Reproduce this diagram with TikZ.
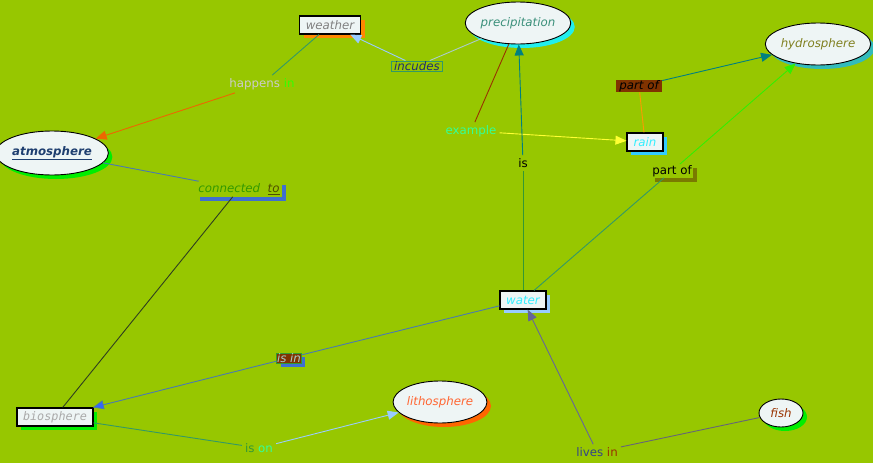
\documentclass[tikz,border=0pt]{standalone}
\usepackage{fontspec}
\setmainfont{DejaVu Sans}
\newfontfamily\monofont{DejaVu Sans Mono}
\usetikzlibrary{arrows.meta,shadows,shapes.geometric}

\definecolor{mapbg}{HTML}{97C700}
\definecolor{nodefill}{HTML}{EEF5F5}
\definecolor{shorange}{HTML}{FF8800}
\definecolor{shcyan}{HTML}{22EEEE}
\definecolor{shteal}{HTML}{33BBBB}
\definecolor{shgreen}{HTML}{00EE00}
\definecolor{shsky}{HTML}{33CCFF}
\definecolor{shpale}{HTML}{99CCFF}
\definecolor{shblue}{HTML}{3F6FD0}
\definecolor{sholive}{HTML}{7A7A00}
\definecolor{shred}{HTML}{FF6600}
\definecolor{linkbrown}{HTML}{803300}
\definecolor{txteal}{HTML}{3A8F7A}
\definecolor{txolive}{HTML}{808020}
\definecolor{txnavy}{HTML}{1F3F70}
\definecolor{txcyan}{HTML}{33EEFF}
\definecolor{txgray}{HTML}{AAAAAA}
\definecolor{txorange}{HTML}{FF6633}
\definecolor{txbrown}{HTML}{993300}
\definecolor{txsilver}{HTML}{CCCCCC}
\definecolor{txlime}{HTML}{33FF00}
\definecolor{txmint}{HTML}{33FF99}
\definecolor{txdarkblue}{HTML}{1F2F70}
\definecolor{txgreen}{HTML}{339900}
\definecolor{txkhaki}{HTML}{4D4D00}
\definecolor{txpale}{HTML}{AACCCC}
\definecolor{txleaf}{HTML}{339933}
\definecolor{txslate}{HTML}{334488}
\definecolor{lnseagreen}{HTML}{339966}
\definecolor{lnorange}{HTML}{EE6600}
\definecolor{lnpale}{HTML}{AACCCC}
\definecolor{lnsky}{HTML}{99CCFF}
\definecolor{lnyellow}{HTML}{FFFF33}
\definecolor{lnteal}{HTML}{008080}
\definecolor{lnamber}{HTML}{FF9900}
\definecolor{lnlime}{HTML}{33EE00}
\definecolor{lnsteel}{HTML}{4A7AB0}
\definecolor{lndark}{HTML}{2F3F1F}
\definecolor{lnblue}{HTML}{3366FF}
\definecolor{lngray}{HTML}{666677}
\definecolor{lnpurple}{HTML}{666699}

\begin{document}
\begin{tikzpicture}[x=1pt,y=-1pt,
    concept/.style={ellipse, draw=black, line width=0.9pt, fill=nodefill,
        inner sep=0pt, font=\fontsize{11.8}{14}\selectfont\itshape},
    cbox/.style={rectangle, draw=black, line width=1.1pt, fill=nodefill,
        inner sep=0pt, minimum height=18pt, font=\fontsize{11.8}{14}\selectfont\itshape},
    phrase/.style={inner sep=3pt, font=\fontsize{11.8}{14}\selectfont},
    shadowed/.style={drop shadow={shadow xshift=4pt, shadow yshift=-4pt, fill=#1, opacity=1}},
    link/.style={line width=0.9pt},
    arr/.style={link, -{Triangle[length=11pt,width=9pt]}}
]

\fill[mapbg] (0,0) rectangle (873,463);
\useasboundingbox (0,0) rectangle (873,463);

% concepts
\node[cbox, shadowed=shorange, minimum width=61pt, text=gray] (weather) at (330,25) {weather};
\node[concept, shadowed=shcyan, minimum width=97pt, minimum height=42pt, text=txteal]
    (precip) at (518,23) {precipitation};
\node[concept, shadowed=shteal, minimum width=98pt, minimum height=42pt, text=txolive]
    (hydro) at (818,44) {hydrosphere};
\node[concept, shadowed=shgreen, minimum width=103pt, minimum height=44pt, text=txnavy]
    (atmos) at (52,153) {\underline{\bfseries atmosphere}};
\node[cbox, shadowed=shsky, minimum width=36pt, text=txcyan] (rain) at (645,142) {rain};
\node[cbox, shadowed=shpale, minimum width=46pt, text=txcyan] (water) at (523,300) {water};
\node[cbox, shadowed=shgreen, minimum width=76pt, text=txgray,
    font=\fontsize{11.8}{14}\selectfont\monofont\itshape] (bio) at (55,417) {biosphere};
\node[concept, shadowed=shred, minimum width=89pt, minimum height=42pt, text=txorange]
    (litho) at (440,402) {lithosphere};
\node[concept, shadowed=shgreen, minimum width=44pt, minimum height=28pt, text=txbrown]
    (fish) at (781,413) {fish};

% linking phrases
\node[phrase] (happens) at (262,84) {\color{txsilver}happens \color{txlime}in};
\node[phrase, draw=lnseagreen, line width=0.8pt, inner sep=0.5pt, minimum width=51pt,
    text=txdarkblue, font=\fontsize{11.8}{14}\selectfont\itshape] (incudes) at (417,66) {incudes};
\node[phrase, text=txmint] (example) at (471,131) {example};
\node[phrase, text=black] (islbl) at (523,163) {is};
\node[phrase, fill=linkbrown, inner sep=0.5pt, minimum width=46pt, text=black,
    font=\fontsize{11.8}{14}\selectfont\itshape] (partofA) at (639,86) {part of};
\node[phrase, fill=mapbg, shadowed=sholive, inner sep=1pt, text=black] (partofB) at (672,171) {part of};
\node[phrase, fill=mapbg, shadowed=shblue, inner sep=2pt, font=\fontsize{11.8}{14}\selectfont\itshape]
    (connected) at (239,189) {\color{txgreen}connected\ \ \color{txkhaki}\underline{to}};
\node[phrase, fill=linkbrown, draw=txleaf, shadowed=shblue, inner sep=0.5pt, text=txpale,
    font=\fontsize{11.8}{14}\selectfont\itshape] (isin) at (289,358) {is in};
\node[phrase] (ison) at (259,448) {\color{txleaf}is \color{txmint}on};
\node[phrase] (lives) at (597,452) {\color{txslate}lives \color{txbrown}in};

% connectors
\draw[link, lnseagreen] (happens) -- (weather);
\draw[arr, lnorange] (happens) -- (atmos);
\draw[link, lnpale] (precip) -- (incudes);
\draw[arr, lnsky] (incudes) -- (weather);
\draw[link, txbrown] (precip) -- (example);
\draw[arr, lnyellow] (example) -- (rain);
\draw[link, txleaf] (water) -- (islbl);
\draw[arr, lnteal] (islbl) -- (precip);
\draw[link, lnamber] (rain) -- (partofA);
\draw[arr, lnteal] (partofA) -- (hydro);
\draw[link, lnseagreen] (water) -- (partofB);
\draw[arr, lnlime] (partofB) -- (hydro);
\draw[link, lnsteel] (atmos) -- (connected);
\draw[link, lndark] (connected) -- (bio);
\draw[link, lnsteel] (water) -- (isin);
\draw[link, lnsteel, -{Triangle[length=11pt,width=9pt,fill=lnblue]}] (isin) -- (bio);
\draw[link, lnseagreen] (bio) -- (ison);
\draw[arr, lnsky] (ison) -- (litho);
\draw[link, lngray] (fish) -- (lives);
\draw[arr, lnpurple] (lives) -- (water);

\end{tikzpicture}
\end{document}
